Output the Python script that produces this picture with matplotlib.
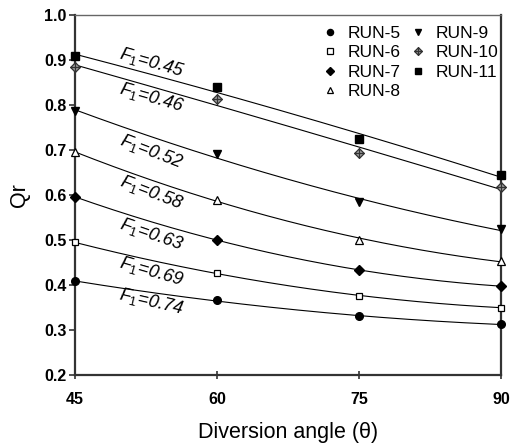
import numpy as np
import matplotlib.pyplot as plt
from matplotlib.path import Path

plt.rcParams['font.family'] = ['Liberation Sans', 'DejaVu Sans']
plt.rcParams['mathtext.fontset'] = 'custom'
plt.rcParams['mathtext.rm'] = 'Liberation Sans'
plt.rcParams['mathtext.it'] = 'Liberation Sans:italic'

# diversion angles and measured discharge ratios
angles = [45, 60, 75, 90]
run5 = [0.409, 0.366, 0.331, 0.313]
run6 = [0.495, 0.426, 0.377, 0.350]
run7 = [0.596, 0.501, 0.433, 0.398]
run8 = [0.695, 0.590, 0.501, 0.453]
run9 = [0.787, 0.691, 0.584, 0.524]
run10 = [0.885, 0.813, 0.693, 0.617]
run11 = [0.909, 0.841, 0.724, 0.644]

run_names = ['RUN-5', 'RUN-6', 'RUN-7', 'RUN-8', 'RUN-9', 'RUN-10', 'RUN-11']
froude = ['0.74', '0.69', '0.63', '0.58', '0.52', '0.46', '0.45']
label_y = [0.364, 0.430, 0.512, 0.605, 0.696, 0.818, 0.894]
label_rot = [-13, -16, -19, -21, -21, -16, -16]

# diamond with a cross through it
crossed = Path(
    [(0, 1), (1, 0), (0, -1), (-1, 0), (0, 1), (0, 1), (0, -1), (-1, 0), (1, 0)],
    [Path.MOVETO, Path.LINETO, Path.LINETO, Path.LINETO, Path.CLOSEPOLY,
     Path.MOVETO, Path.LINETO, Path.MOVETO, Path.LINETO])

styles = [
    dict(marker='o', mfc='black', mec='black', ms=5.5),
    dict(marker='s', mfc='white', mec='black', ms=5, mew=0.9),
    dict(marker='D', mfc='black', mec='black', ms=5),
    dict(marker='^', mfc='white', mec='black', ms=5.5, mew=0.9),
    dict(marker='v', mfc='black', mec='black', ms=5.5),
    dict(marker=crossed, mfc='#a0a0a0', mec='#333333', ms=7, mew=0.9),
    dict(marker='s', mfc='black', mec='black', ms=5.5),
]

series = [run5, run6, run7, run8, run9, run10, run11]

fig = plt.figure(figsize=(5.12, 4.44), dpi=100)
ax = fig.add_axes([0.146, 0.155, 0.833, 0.811])

xs = np.linspace(45, 90, 200)
handles = []
for vals, name, st in zip(series, run_names, styles):
    # second order trend line through each run
    coef = np.polyfit(angles, vals, 2)
    ax.plot(xs, np.polyval(coef, xs), color='black', lw=0.8, zorder=2)
    h, = ax.plot(angles, vals, ls='none', label=name, zorder=3,
                 clip_on=False, **st)
    handles.append(h)

for f, y, r in zip(froude, label_y, label_rot):
    ax.text(53.1, y, r'$F_1$=' + f, fontsize=13, style='italic',
            rotation=r, ha='center', va='center', rotation_mode='anchor')

ax.set_xlim(45, 90)
ax.set_ylim(0.2, 1.0)
ax.set_xticks(angles)
ax.set_yticks(np.arange(0.2, 1.01, 0.1))
ax.set_yticklabels(['%.1f' % v for v in np.arange(0.2, 1.01, 0.1)])
ax.tick_params(axis='both', length=4, width=1.2, labelsize=11.5,
               color='#333333')
ax.tick_params(axis='y', direction='out', pad=2)
ax.tick_params(axis='x', direction='inout', length=6, pad=9)
for lab in ax.get_xticklabels() + ax.get_yticklabels():
    lab.set_fontweight('bold')

for side in ['left', 'bottom', 'right']:
    ax.spines[side].set_linewidth(1.6)
    ax.spines[side].set_color('#333333')
ax.spines['top'].set_linewidth(1.0)
ax.spines['top'].set_color('#666666')

ax.set_xlabel('Diversion angle (θ)', fontsize=15.5, labelpad=11)
ax.set_ylabel('Qr', fontsize=15.5, labelpad=10)

ax.legend(handles=handles, ncol=2, loc='upper right', frameon=False,
          fontsize=12.5, handlelength=0.8, handletextpad=0.6,
          columnspacing=0.6, labelspacing=0.25, markerscale=0.8,
          borderaxespad=0.2, bbox_to_anchor=(1.017, 1.0))

fig.savefig('out.png', dpi=100)
